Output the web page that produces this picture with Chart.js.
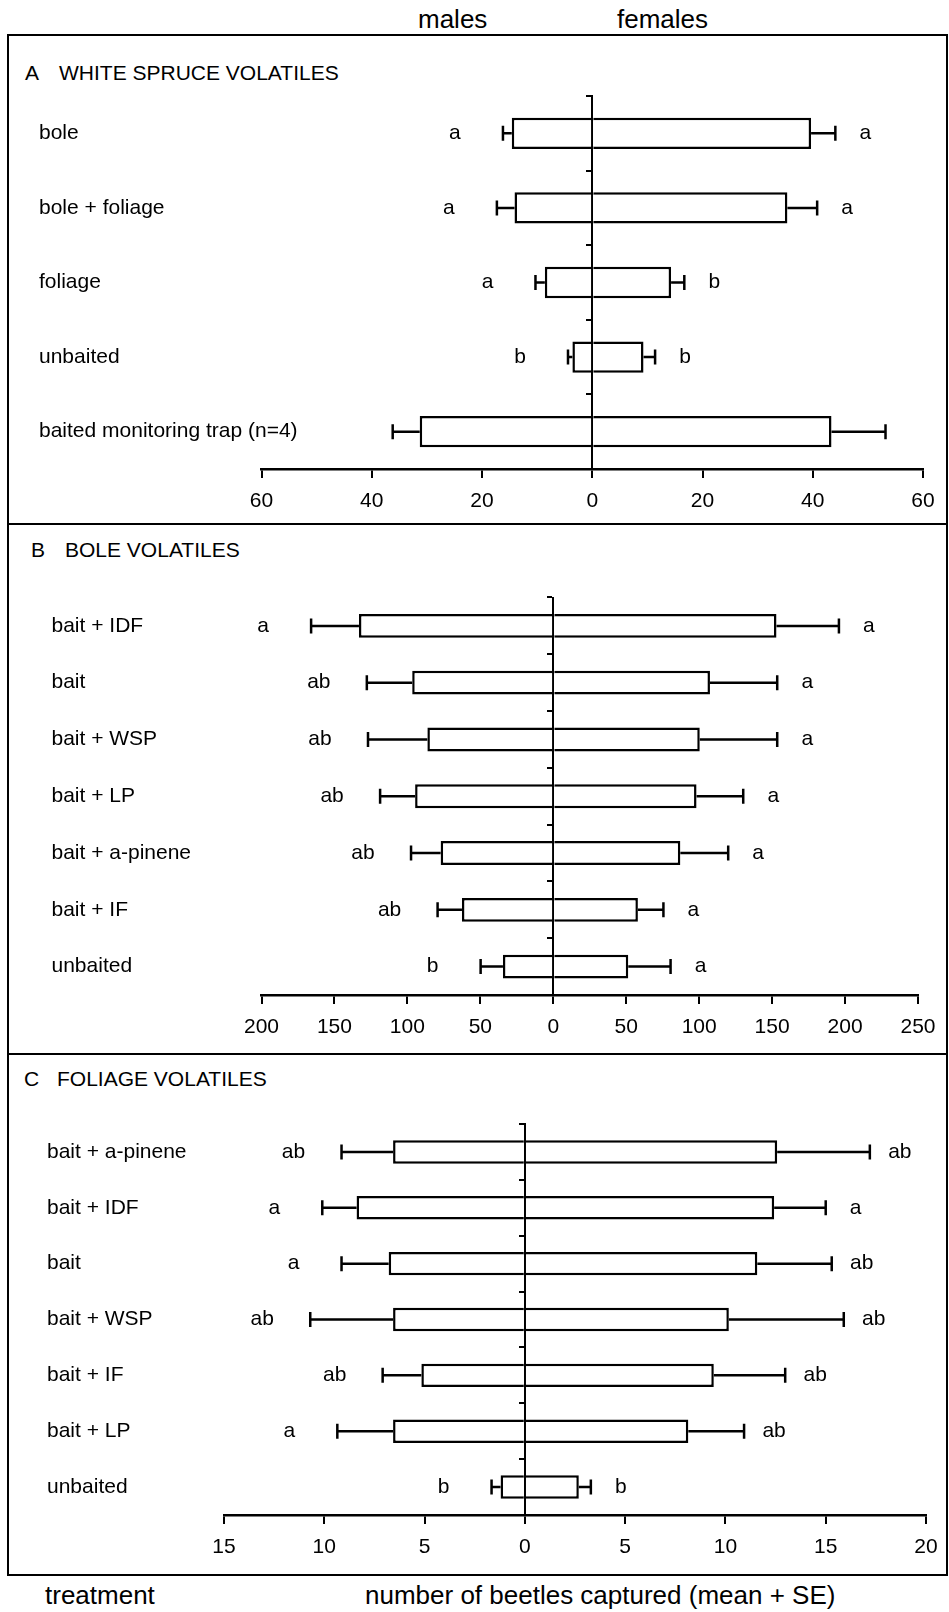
<!DOCTYPE html>
<html>
<head>
<meta charset="utf-8">
<script src="https://cdn.jsdelivr.net/npm/chart.js@4.4.1/dist/chart.umd.min.js"></script>
<style>
  body { margin: 0; background: #fff; font-family: "Liberation Sans", Arial, sans-serif; color: #000; }
  #page { position: relative; width: 949px; height: 1612px; overflow: hidden; background: #fff; }
  .txt { position: absolute; white-space: pre; line-height: 1; }
  .big { font-size: 26px; }
  .ttl { font-size: 21px; }
  .frame { position: absolute; left: 7px; top: 34px; width: 941px; height: 1542px; border: 2px solid #000; box-sizing: border-box; }
  .hline { position: absolute; left: 7px; width: 941px; height: 2px; background: #000; }
  canvas { position: absolute; left: 0; }
</style>
</head>
<body>
<div id="page">
  <div class="frame"></div>
  <div class="hline" style="top:523px"></div>
  <div class="hline" style="top:1053px"></div>

  <div class="txt big" style="left:418px; top:6px">males</div>
  <div class="txt big" style="left:617px; top:6px">females</div>

  <div class="txt ttl" style="left:25px; top:62px">A</div>
  <div class="txt ttl" style="left:59px; top:62px">WHITE SPRUCE VOLATILES</div>
  <div class="txt ttl" style="left:31px; top:539px">B</div>
  <div class="txt ttl" style="left:65px; top:539px">BOLE VOLATILES</div>
  <div class="txt ttl" style="left:24px; top:1068px">C</div>
  <div class="txt ttl" style="left:57px; top:1068px">FOLIAGE VOLATILES</div>

  <canvas id="chartA" width="949" height="488" style="top:36px"></canvas>
  <canvas id="chartB" width="949" height="530" style="top:524px"></canvas>
  <canvas id="chartC" width="949" height="521" style="top:1054px"></canvas>

  <div class="txt big" style="left:45px; top:1582px">treatment</div>
  <div class="txt big" style="left:365px; top:1582px">number of beetles captured (mean + SE)</div>
</div>

<script>
// A - white spruce volatiles
var catsA = ['bole', 'bole + foliage', 'foliage', 'unbaited', 'baited monitoring trap (n=4)'];
var maleA = [14.6, 14.1, 8.6, 3.6, 31.3];
var maleSeA = [1.6, 3.2, 1.7, 0.8, 4.9];
var femaleA = [39.7, 35.4, 14.3, 9.3, 43.4];
var femaleSeA = [4.4, 5.4, 2.4, 2.1, 9.8];
var maleLetA = ['a', 'a', 'a', 'b', ''];
var femaleLetA = ['a', 'a', 'b', 'b', ''];
var axisA = [-60, 60, 20];

// B - bole volatiles
var catsB = ['bait + IDF', 'bait', 'bait + WSP', 'bait + LP', 'bait + a-pinene', 'bait + IF', 'unbaited'];
var maleB = [133.2, 96.7, 86.3, 94.7, 77.2, 62.6, 34.5];
var maleSeB = [32.8, 31.1, 40.7, 24.0, 20.3, 16.7, 15.3];
var femaleB = [153.0, 107.4, 100.4, 98.2, 87.1, 58.0, 51.4];
var femaleSeB = [42.8, 46.1, 53.1, 32.0, 32.8, 17.5, 29.0];
var maleLetB = ['a', 'ab', 'ab', 'ab', 'ab', 'ab', 'b'];
var femaleLetB = ['a', 'a', 'a', 'a', 'a', 'a', 'a'];
var axisB = [-200, 250, 50];

// C - foliage volatiles
var catsC = ['bait + a-pinene', 'bait + IDF', 'bait', 'bait + WSP', 'bait + IF', 'bait + LP', 'unbaited'];
var maleC = [6.57, 8.39, 6.79, 6.57, 5.16, 6.57, 1.21];
var maleSeC = [2.57, 1.71, 2.35, 4.13, 1.93, 2.78, 0.45];
var femaleC = [12.58, 12.43, 11.59, 10.17, 9.42, 8.15, 2.69];
var femaleSeC = [4.62, 2.57, 3.71, 5.73, 3.56, 2.78, 0.6];
var maleLetC = ['ab', 'a', 'a', 'ab', 'ab', 'a', 'b'];
var femaleLetC = ['ab', 'a', 'ab', 'ab', 'ab', 'ab', 'b'];
var axisC = [-15, 20, 5];

var FONT = '"Liberation Sans", Arial, sans-serif';
Chart.defaults.font.family = FONT;
Chart.defaults.color = '#000';

// error bars + significance letters, drawn from the bar elements
function errorBars(means, ses, letters) {
    return {
        id: 'errorBars',
        afterDatasetsDraw: function (chart) {
            var ctx = chart.ctx;
            var xs = chart.scales.x;
            ctx.save();
            ctx.strokeStyle = '#000';
            ctx.fillStyle = '#000';
            ctx.lineWidth = 2.5;
            ctx.font = '21px ' + FONT;
            ctx.textAlign = 'center';
            ctx.textBaseline = 'middle';
            [0, 1].forEach(function (d) {
                var sign = d === 0 ? -1 : 1;
                chart.getDatasetMeta(d).data.forEach(function (bar, i) {
                    var px = xs.getPixelForValue(sign * (means[d][i] + ses[d][i]));
                    ctx.beginPath();
                    ctx.moveTo(bar.x, bar.y);
                    ctx.lineTo(px, bar.y);
                    ctx.moveTo(px, bar.y - 7.5);
                    ctx.lineTo(px, bar.y + 7.5);
                    ctx.stroke();
                    if (letters[d][i]) {
                        ctx.fillText(letters[d][i], px + (d === 0 ? -48 : 30), bar.y);
                    }
                });
            });
            ctx.restore();
        }
    };
}

function makePanel(id, cats, male, maleSe, female, femaleSe, maleLet, femaleLet, axis, pad, labelW) {
    var ctx = document.getElementById(id).getContext('2d');
    return new Chart(ctx, {
        type: 'bar',
        data: {
            labels: cats,
            datasets: [{
                label: 'males',
                data: male.map(function (v) { return -v; }),
                backgroundColor: '#fff', borderColor: '#000', borderWidth: 2.5, borderSkipped: 'start',
                categoryPercentage: 1, barPercentage: 0.42
            }, {
                label: 'females',
                data: female,
                backgroundColor: '#fff', borderColor: '#000', borderWidth: 2.5, borderSkipped: 'start',
                categoryPercentage: 1, barPercentage: 0.42
            }]
        },
        options: {
            indexAxis: 'y',
            responsive: false,
            animation: false,
            devicePixelRatio: 1,
            layout: { padding: pad },
            plugins: { legend: { display: false }, tooltip: { enabled: false } },
            scales: {
                x: {
                    type: 'linear', stacked: true,
                    min: axis[0], max: axis[1],
                    ticks: {
                        stepSize: axis[2], autoSkip: false, maxRotation: 0, padding: 11,
                        font: { size: 21 },
                        callback: function (v) { return Math.abs(v); }
                    },
                    grid: { drawOnChartArea: false, tickLength: 9, color: '#000', lineWidth: 2 },
                    border: { display: true, color: '#000', width: 2.5 },
                    afterFit: function (s) { s.height = 45; }
                },
                // treatment names, left aligned at the panel margin
                y: {
                    type: 'category', position: 'left', stacked: true, offset: true,
                    grid: { display: false },
                    border: { display: false },
                    ticks: { mirror: true, crossAlign: 'near', padding: -labelW, autoSkip: false, font: { size: 21 } },
                    afterFit: function (s) { s.width = labelW; }
                },
                // the vertical line at zero with its small category ticks
                yc: {
                    type: 'category', axis: 'y', position: { x: 0 }, offset: true, z: 1,
                    grid: { offset: true, drawOnChartArea: false, tickLength: 5, color: '#000', lineWidth: 2 },
                    border: { display: true, color: '#000', width: 2 },
                    ticks: { display: false }
                }
            }
        },
        plugins: [errorBars([male, female], [maleSe, femaleSe], [maleLet, femaleLet])]
    });
}

makePanel('chartA', catsA, maleA, maleSeA, femaleA, femaleSeA, maleLetA, femaleLetA, axisA,
    { left: 39, right: 26, top: 60, bottom: 10 }, 222.5);
makePanel('chartB', catsB, maleB, maleSeB, femaleB, femaleSeB, maleLetB, femaleLetB, axisB,
    { left: 51.5, right: 31, top: 73.5, bottom: 14 }, 210);
makePanel('chartC', catsC, maleC, maleSeC, femaleC, femaleSeC, maleLetC, femaleLetC, axisC,
    { left: 47, right: 23, top: 70, bottom: 15 }, 177);
</script>
</body>
</html>
